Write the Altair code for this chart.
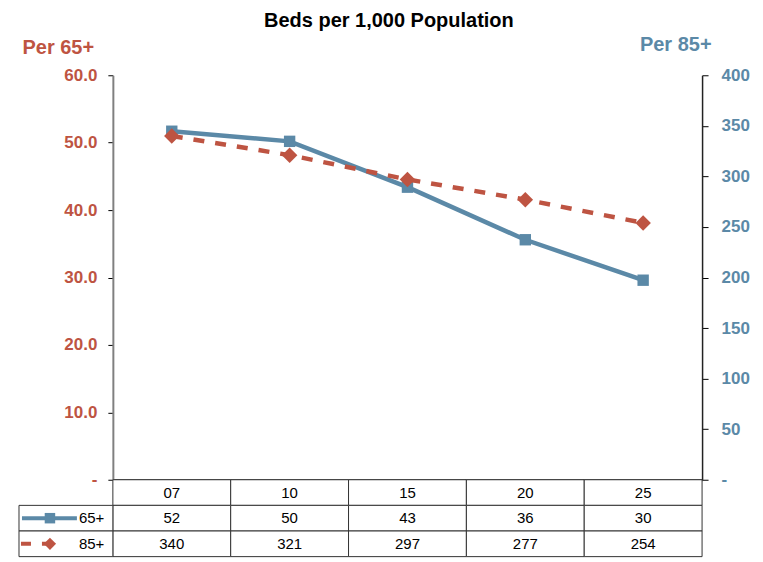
import altair as alt
import pandas as pd

# ---- data ----
categories = ["07", "10", "15", "20", "25"]
per_65 = [51.7, 50.2, 43.4, 35.6, 29.6]      # plotted on left axis (table shows rounded values)
per_85 = [340, 321, 297, 277, 254]           # plotted on right axis
series = ["65+", "85+"]
left_ticks = [0, 10, 20, 30, 40, 50, 60]
right_ticks = [0, 50, 100, 150, 200, 250, 300, 350, 400]
title_text = "Beds per 1,000 Population"
left_title = "Per 65+"
right_title = "Per 85+"

BLUE = "#5B89A7"
RED = "#BE5442"
FONT = "Liberation Sans"
W, H, TH = 590, 405, 77

df = pd.DataFrame({"cat": categories, "v65": per_65, "v85": per_85})

x_top = alt.X("cat:N", sort=categories,
              scale=alt.Scale(type="point", domain=categories, padding=0.5),
              axis=alt.Axis(title=None, labels=False, ticks=False, grid=False,
                            domainColor="#222222", domainWidth=2))

left_axis = alt.Axis(orient="left", values=left_ticks, grid=False,
                     labelExpr="datum.value == 0 ? '-' : format(datum.value, '.1f')",
                     labelColor=RED, labelFont=FONT, labelFontSize=17, labelFontWeight="bold",
                     labelPadding=11, tickSize=5, tickColor="black",
                     domainColor="#808080", domainWidth=2,
                     title=left_title, titleAngle=0, titleAlign="left", titleBaseline="alphabetic",
                     titleX=-91, titleY=-22, titleColor=RED, titleFont=FONT,
                     titleFontSize=20, titleFontWeight="bold")
right_axis = alt.Axis(orient="right", values=right_ticks, grid=False,
                      labelExpr="datum.value == 0 ? '-' : format(datum.value, 'd')",
                      labelColor=BLUE, labelFont=FONT, labelFontSize=17, labelFontWeight="bold",
                      labelPadding=13, tickSize=6, tickColor="black",
                      domainColor="#222222", domainWidth=1.5,
                      title=right_title, titleAngle=0, titleAlign="right", titleBaseline="alphabetic",
                      titleX=9, titleY=-25, titleColor=BLUE, titleFont=FONT,
                      titleFontSize=20, titleFontWeight="bold")

y_left = alt.Y("v65:Q", scale=alt.Scale(domain=[0, 60], nice=False), axis=left_axis)
y_right = alt.Y("v85:Q", scale=alt.Scale(domain=[0, 400], nice=False), axis=right_axis)

base = alt.Chart(df)
blue = alt.layer(
    base.mark_line(color=BLUE, strokeWidth=4.5).encode(x=x_top, y=y_left),
    base.mark_point(shape="square", filled=True, size=130, color=BLUE, opacity=1).encode(x=x_top, y=y_left),
)
red = alt.layer(
    base.mark_line(color=RED, strokeWidth=4.5, strokeDash=[11, 11]).encode(x=x_top, y=y_right),
    base.mark_point(shape="diamond", filled=True, size=240, color=RED, opacity=1).encode(x=x_top, y=y_right),
)
top = alt.layer(blue, red).resolve_scale(y="independent").properties(width=W, height=H)

# ---- data table under the plot ----
rows = ["hdr"] + series
cells = []
for i, c in enumerate(categories):
    cells.append({"col": c, "row": "hdr", "txt": c})
    cells.append({"col": c, "row": "65+", "txt": str(round(per_65[i]))})
    cells.append({"col": c, "row": "85+", "txt": str(per_85[i])})
cells_df = pd.DataFrame(cells)

x_tab = alt.X("col:N", sort=categories,
              scale=alt.Scale(type="band", domain=categories, paddingInner=0, paddingOuter=0), axis=None)
y_tab = alt.Y("row:N", sort=rows,
              scale=alt.Scale(type="band", domain=rows, paddingInner=0, paddingOuter=0), axis=None)
y_mid = alt.Y("row:N", sort=rows, bandPosition=0.5,
              scale=alt.Scale(type="band", domain=rows, paddingInner=0, paddingOuter=0), axis=None)

tb = alt.Chart(cells_df)
cell_rect = tb.mark_rect(fill="white", stroke="#333333", strokeWidth=1).encode(x=x_tab, y=y_tab)
cell_text = tb.mark_text(font=FONT, fontSize=15, color="black").encode(x=x_tab, y=y_mid, text="txt:N")

leg_df = pd.DataFrame({"row": series, "label": series})
lg = alt.Chart(leg_df)
leg_rect = lg.mark_rect(fill="white", stroke="#333333", strokeWidth=1).encode(
    x=alt.value(-94), x2=alt.value(0), y=y_tab)
leg_text = lg.mark_text(font=FONT, fontSize=15, color="black", align="left").encode(
    x=alt.value(-34), y=y_mid, text="label:N")
leg_blue_line = lg.transform_filter(alt.datum.row == "65+").mark_rule(color=BLUE, strokeWidth=4).encode(
    x=alt.value(-91), x2=alt.value(-36), y=y_mid)
leg_blue_pt = lg.transform_filter(alt.datum.row == "65+").mark_point(
    shape="square", filled=True, size=110, color=BLUE, opacity=1).encode(x=alt.value(-63), y=y_mid)
leg_red_line = lg.transform_filter(alt.datum.row == "85+").mark_rule(
    color=RED, strokeWidth=4, strokeDash=[10, 11]).encode(x=alt.value(-92), x2=alt.value(-53), y=y_mid)
leg_red_pt = lg.transform_filter(alt.datum.row == "85+").mark_point(
    shape="diamond", filled=True, size=150, color=RED, opacity=1).encode(x=alt.value(-63), y=y_mid)

table = alt.layer(cell_rect, cell_text, leg_rect, leg_text,
                  leg_blue_line, leg_blue_pt, leg_red_line, leg_red_pt).properties(width=W, height=TH)

chart = alt.vconcat(top, table, spacing=0, bounds="flush").resolve_scale(
    x="independent", y="independent"
).properties(
    title=alt.TitleParams(title_text, font=FONT, fontSize=20, fontWeight="bold", color="black",
                          anchor="middle", offset=3, dx=5),
    padding={"left": 10, "top": 3, "right": 5, "bottom": 0},
).configure(font=FONT).configure_view(stroke=None, strokeWidth=0)

chart.save("out.html", embed_options={"renderer": "svg", "actions": False})
